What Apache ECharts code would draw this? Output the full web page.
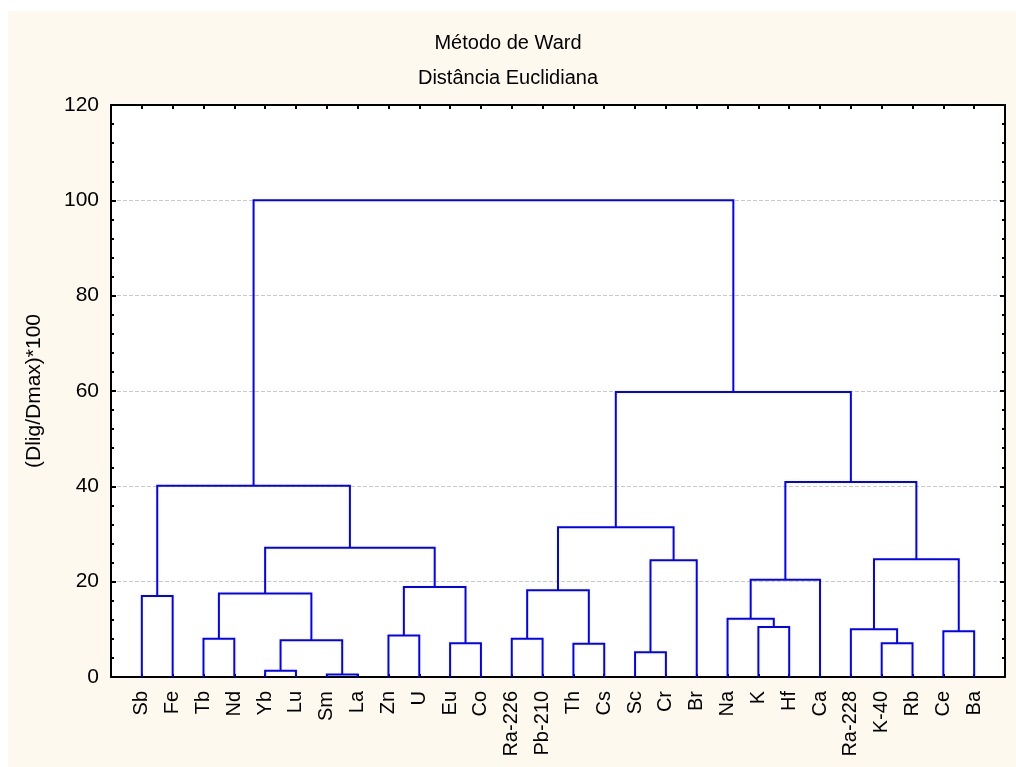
<!DOCTYPE html>
<html>
<head>
<meta charset="utf-8">
<script src="https://cdn.jsdelivr.net/npm/echarts@6/dist/echarts.min.js"></script>
<style>
  html, body { margin: 0; padding: 0; background: #fff; }
  #frame { position: absolute; left: 8px; top: 11px; width: 1008px; height: 756px; background: #fdf9ef; }
  #chart { position: absolute; left: 0; top: 0; width: 1016px; height: 767px; }
</style>
</head>
<body>
<div id="frame"></div>
<div id="chart"></div>
<script>
// leaves in dendrogram order
const leafNames = ['Sb', 'Fe', 'Tb', 'Nd', 'Yb', 'Lu', 'Sm', 'La', 'Zn', 'U', 'Eu', 'Co',
  'Ra-226', 'Pb-210', 'Th', 'Cs', 'Sc', 'Cr', 'Br', 'Na', 'K', 'Hf', 'Ca',
  'Ra-228', 'K-40', 'Rb', 'Ce', 'Ba']

// merges: node ids 0..27 are leaves, merge n creates node 28+n
const mergeLeft = [6, 4, 16, 14, 10, 24, 29, 2, 12, 8, 26, 23, 20, 19, 0, 35, 36, 37, 41, 30, 39, 43, 44, 42, 46, 50, 51]
const mergeRight = [7, 5, 17, 15, 11, 25, 28, 3, 13, 9, 27, 33, 21, 40, 1, 34, 31, 32, 22, 18, 38, 45, 47, 49, 48, 52, 53]
const mergeHeight = [0.5, 1.3, 5.2, 7.0, 7.1, 7.1, 7.7, 8.0, 8.0, 8.7, 9.6, 10.0, 10.5, 12.2,
  17.0, 17.5, 18.2, 18.9, 20.4, 24.5, 24.7, 27.1, 31.4, 40.1, 40.9, 59.8, 100]

const yTicks = { min: 0, max: 120, interval: 20 }

const nodeX = leafNames.map((v, i) => i + 1)
const nodeH = leafNames.map(() => 0)
const links = []
mergeHeight.forEach((h, k) => {
  let a = mergeLeft[k]
  let b = mergeRight[k]
  links.push({ coords: [[nodeX[a], nodeH[a]], [nodeX[a], h], [nodeX[b], h], [nodeX[b], nodeH[b]]] })
  nodeX.push((nodeX[a] + nodeX[b]) / 2)
  nodeH.push(h)
})

const font = 'Liberation Sans, Arial, sans-serif'
const chart = echarts.init(document.getElementById('chart'))
chart.setOption({
  backgroundColor: 'transparent',
  animation: false,
  graphic: [
    { type: 'text', x: 508, y: 43, style: { text: 'Método de Ward', fontFamily: font, fontSize: 20, fill: '#000', textAlign: 'center', textVerticalAlign: 'middle' } },
    { type: 'text', x: 508, y: 78, style: { text: 'Distância Euclidiana', fontFamily: font, fontSize: 20, fill: '#000', textAlign: 'center', textVerticalAlign: 'middle' } }
  ],
  grid: {
    left: 111, right: 11, top: 105, bottom: 90,
    show: true, backgroundColor: '#fff', borderColor: '#000', borderWidth: 0
  },
  xAxis: [
    {
      type: 'value', min: 0, max: leafNames.length + 1, interval: 1, position: 'bottom',
      axisLine: { show: true, onZero: false, lineStyle: { color: '#000', width: 2 } },
      axisTick: { show: true, inside: true, length: 3, lineStyle: { color: '#000', width: 2 } },
      axisLabel: {
        rotate: 90, margin: 14, fontFamily: font, fontSize: 20, color: '#000',
        formatter: v => leafNames[v - 1] || ''
      },
      splitLine: { show: false }
    },
    {
      type: 'value', min: 0, max: leafNames.length + 1, interval: 1, position: 'top',
      axisLine: { show: true, onZero: false, lineStyle: { color: '#000', width: 2 } },
      axisTick: { show: true, inside: true, length: 4, lineStyle: { color: '#000', width: 2 } },
      axisLabel: { show: false },
      splitLine: { show: false }
    }
  ],
  yAxis: [
    {
      type: 'value', min: yTicks.min, max: yTicks.max, interval: yTicks.interval, position: 'left',
      name: '(Dlig/Dmax)*100', nameLocation: 'middle', nameGap: 66,
      nameTextStyle: { fontFamily: font, fontSize: 21, color: '#000' },
      axisLine: { show: true, onZero: false, lineStyle: { color: '#000', width: 2 } },
      axisTick: { show: true, inside: true, length: 5, lineStyle: { color: '#000', width: 2 } },
      minorTick: { show: true, splitNumber: 5, length: 3, lineStyle: { color: '#000', width: 2 } },
      axisLabel: { margin: 12, fontFamily: font, fontSize: 21, color: '#000' },
      splitLine: { show: true, lineStyle: { color: '#c8c8c8', type: [4, 2], width: 1 } }
    },
    {
      type: 'value', min: yTicks.min, max: yTicks.max, interval: yTicks.interval, position: 'right',
      axisLine: { show: true, onZero: false, lineStyle: { color: '#000', width: 2 } },
      axisTick: { show: true, inside: true, length: 5, lineStyle: { color: '#000', width: 2 } },
      minorTick: { show: true, splitNumber: 5, length: 3, lineStyle: { color: '#000', width: 2 } },
      axisLabel: { show: false },
      splitLine: { show: false }
    }
  ],
  series: [
    {
      type: 'lines',
      coordinateSystem: 'cartesian2d',
      xAxisIndex: 0,
      yAxisIndex: 0,
      polyline: true,
      silent: true,
      lineStyle: { color: '#0000ff', width: 2, opacity: 1 },
      data: links
    }
  ]
})
</script>
</body>
</html>
